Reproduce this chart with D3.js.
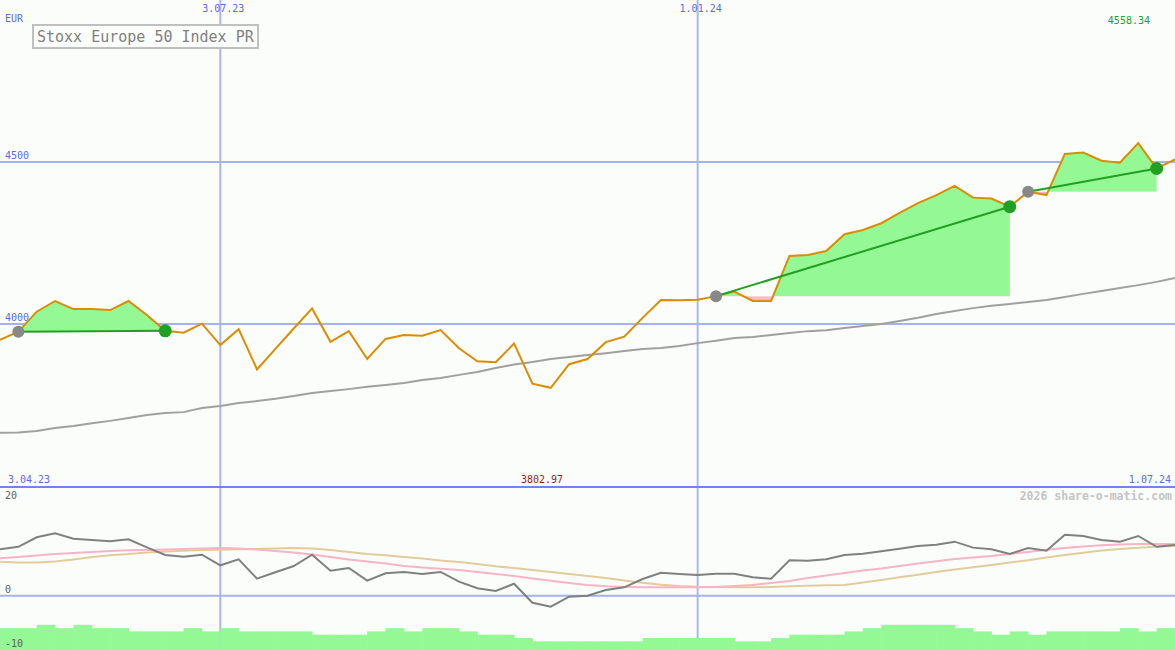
<!DOCTYPE html>
<html><head><meta charset="utf-8">
<script src="https://cdn.jsdelivr.net/npm/d3@7/dist/d3.min.js"></script>
<style>body{margin:0;background:#fbfdfb;}svg{display:block;}</style>
</head><body><svg id="c" width="1175" height="650"></svg>
<script>
const weeks = ["2023-04-10","2023-04-17","2023-04-24","2023-05-01","2023-05-08","2023-05-15","2023-05-22","2023-05-29","2023-06-05","2023-06-12","2023-06-19","2023-06-26","2023-07-03","2023-07-10","2023-07-17","2023-07-24","2023-07-31","2023-08-07","2023-08-14","2023-08-21","2023-08-28","2023-09-04","2023-09-11","2023-09-18","2023-09-25","2023-10-02","2023-10-09","2023-10-16","2023-10-23","2023-10-30","2023-11-06","2023-11-13","2023-11-20","2023-11-27","2023-12-04","2023-12-11","2023-12-18","2023-12-25","2024-01-01","2024-01-08","2024-01-15","2024-01-22","2024-01-29","2024-02-05","2024-02-12","2024-02-19","2024-02-26","2024-03-04","2024-03-11","2024-03-18","2024-03-25","2024-04-01","2024-04-08","2024-04-15","2024-04-22","2024-04-29","2024-05-06","2024-05-13","2024-05-20","2024-05-27","2024-06-03","2024-06-10","2024-06-17","2024-06-24","2024-07-01"];
const price = [3951,3976,4038,4071,4046,4046,4043,4071,4028,3979,3973,4001,3935,3984,3860,3923,3986,4048,3945,3978,3892,3954,3966,3964,3981,3925,3885,3882,3940,3816,3802.97,3876,3892,3944,3961,4019,4074,4073,4075,4086,4100,4071,4071,4210,4213,4225,4277,4290,4311,4343,4373,4398,4426,4390,4387,4362,4408,4398,4525,4529,4504,4498,4558.34,4480,4508];
const maLong = [3664,3665,3670,3679,3685,3694,3701,3710,3719,3725,3728,3741,3747,3756,3762,3769,3778,3787,3793,3799,3806,3812,3818,3827,3833,3843,3852,3864,3875,3883,3892,3898,3904,3910,3917,3923,3926,3932,3941,3948,3957,3960,3966,3972,3978,3981,3988,3994,4000,4009,4019,4031,4040,4049,4056,4062,4068,4074,4083,4093,4102,4111,4120,4130,4142];
const momentum = [8.53,9.0,10.74,11.47,10.49,10.25,10.0,10.37,8.9,7.49,7.18,7.54,5.59,6.69,3.12,4.3,5.46,7.54,4.6,5.09,2.76,4.12,4.36,3.99,4.36,2.58,1.36,0.86,2.2,-1.3,-2.03,-0.19,0.0,1.04,1.54,3.07,4.23,3.99,3.8,4.04,4.04,3.38,3.12,6.5,6.43,6.69,7.49,7.72,8.17,8.65,9.14,9.38,9.94,8.84,8.53,7.67,8.77,8.28,11.22,10.98,10.25,9.94,10.98,9.0,9.33];
const momFast = [6.88,7.12,7.39,7.67,7.85,8.04,8.22,8.35,8.41,8.5,8.59,8.68,8.77,8.68,8.5,8.22,7.95,7.58,7.12,6.66,6.29,5.92,5.46,5.19,4.96,4.72,4.36,3.99,3.62,3.16,2.76,2.33,1.96,1.72,1.6,1.54,1.54,1.54,1.54,1.6,1.78,1.96,2.33,2.7,3.25,3.71,4.17,4.63,5.0,5.46,5.92,6.33,6.75,7.03,7.3,7.67,8.04,8.46,8.77,9.05,9.27,9.42,9.51,9.51,9.51];
const momSlow = [6.25,6.11,6.11,6.29,6.66,7.12,7.43,7.67,7.95,8.13,8.28,8.41,8.46,8.53,8.59,8.68,8.77,8.68,8.41,8.04,7.67,7.43,7.12,6.84,6.47,6.2,5.83,5.41,5.09,4.72,4.36,3.99,3.62,3.25,2.79,2.39,2.02,1.78,1.65,1.6,1.54,1.54,1.6,1.72,1.83,1.91,1.96,2.42,2.88,3.38,3.86,4.36,4.82,5.22,5.65,6.11,6.51,7.03,7.49,7.91,8.31,8.59,8.83,9.01,9.2];
const barValues = [7,7,8,7,8,7,7,6,6,6,7,6,7,6,6,6,6,5,5,5,6,7,6,7,7,6,5,5,4,3,3,3,3,3,3,4,4,4,4,4,3,3,4,5,5,5,6,7,8,8,8,8,7,6,5,6,5,6,6,6,6,7,6,7];
const trades = [[1,9],[39,55],[56,63]]; // [entry week index, exit week index]
const priceTicks = [4000, 4500];
const dateLines = ["2023-07-03","2024-01-01"];
const dateLineLabels = ["3.07.23","1.01.24"];
const title = "Stoxx Europe 50 Index PR";
const currency = "EUR";
const lowTicks = [20, 0, -10];
const startLabel = "3.04.23", endLabel = "1.07.24";
const maxLabel = "4558.34", minLabel = "3802.97";
const credit = "2026 share-o-matic.com";

const W = 1175, H = 650;
const parse = d3.timeParse("%Y-%m-%d");
const dates = weeks.map(parse);
const svg = d3.select("#c");
const mono = "'DejaVu Sans Mono', monospace";

const x = d3.scaleTime().domain([dates[0], dates[dates.length-1]]).range([0, W]);
const y = d3.scaleLinear().domain([3500, 5000]).range([486, 0]);
const yLow = d3.scaleLinear().domain([-10, 20]).range([650, 487]);
const yBar = d3.scaleLinear().domain([0, 10]).range([651.2, 618.2]);

svg.append("rect").attr("width", W).attr("height", H).attr("fill", "#fbfdfb");

// vertical date lines
svg.selectAll(".vl").data(dateLines).join("line")
  .attr("x1", d => x(parse(d))).attr("x2", d => x(parse(d)))
  .attr("y1", 0).attr("y2", H).attr("stroke", "#a8b6f2").attr("stroke-width", 2);

// price gridlines
svg.selectAll(".hg").data(priceTicks).join("line")
  .attr("x1", 0).attr("x2", W).attr("y1", d => y(d)).attr("y2", d => y(d))
  .attr("stroke", "#a4b2f0").attr("stroke-width", 2);
svg.selectAll(".hgt").data(priceTicks).join("text")
  .attr("x", 5).attr("y", d => y(d) - 3).text(d => d)
  .attr("font-family", mono).attr("font-size", 10).attr("fill", "#5a6af0");

// lower panel zero line
svg.append("line").attr("x1", 0).attr("x2", W).attr("y1", yLow(0)).attr("y2", yLow(0))
  .attr("stroke", "#a4b2f0").attr("stroke-width", 2);

// bars
svg.selectAll(".bar").data(barValues).join("rect")
  .attr("x", (d, i) => x(dates[i])).attr("width", (d, i) => x(dates[i+1]) - x(dates[i]) + 0.5)
  .attr("y", d => yBar(d)).attr("height", d => H - yBar(d)).attr("fill", "#94f894");

// separator line
svg.append("line").attr("x1", 0).attr("x2", W).attr("y1", 487).attr("y2", 487)
  .attr("stroke", "#7282ee").attr("stroke-width", 2);

// long moving average
svg.append("path").datum(maLong)
  .attr("d", d3.line().x((d, i) => x(dates[i])).y(d => y(d)))
  .attr("fill", "none").attr("stroke", "#a0a0a0").attr("stroke-width", 2);

// trade fills
const defs = svg.append("defs");
trades.forEach((t, k) => {
  const [a, b] = t;
  const base = y(price[a]);
  const idx = d3.range(a, b + 1);
  const area = d3.area().x(i => x(dates[i])).y0(base).y1(i => y(price[i]));
  defs.append("clipPath").attr("id", "up" + k).append("rect")
    .attr("x", 0).attr("y", 0).attr("width", W).attr("height", base);
  defs.append("clipPath").attr("id", "dn" + k).append("rect")
    .attr("x", 0).attr("y", base).attr("width", W).attr("height", H - base);
  svg.append("path").datum(idx).attr("d", area).attr("fill", "#94f894").attr("clip-path", `url(#up${k})`);
  svg.append("path").datum(idx).attr("d", area).attr("fill", "#ffb6c6").attr("clip-path", `url(#dn${k})`);
});

// price line
svg.append("path").datum(price)
  .attr("d", d3.line().x((d, i) => x(dates[i])).y(d => y(d)))
  .attr("fill", "none").attr("stroke", "#dc8c00").attr("stroke-width", 2).attr("stroke-linejoin", "miter");

// trade lines and dots
trades.forEach(([a, b]) => {
  svg.append("line").attr("x1", x(dates[a])).attr("y1", y(price[a]))
    .attr("x2", x(dates[b])).attr("y2", y(price[b]))
    .attr("stroke", "#22a022").attr("stroke-width", 2);
});
trades.forEach(([a, b]) => {
  svg.append("circle").attr("cx", x(dates[a])).attr("cy", y(price[a])).attr("r", 6).attr("fill", "#888888");
  svg.append("circle").attr("cx", x(dates[b])).attr("cy", y(price[b])).attr("r", 6.5).attr("fill", "#22a022");
});

// lower panel lines
const lowLine = d3.line().x((d, i) => x(dates[i])).y(d => yLow(d));
svg.append("path").datum(momSlow).attr("d", lowLine).attr("fill", "none").attr("stroke", "#e2cc9c").attr("stroke-width", 2);
svg.append("path").datum(momFast).attr("d", lowLine).attr("fill", "none").attr("stroke", "#f8b4c6").attr("stroke-width", 2);
svg.append("path").datum(momentum).attr("d", lowLine).attr("fill", "none").attr("stroke", "#808080").attr("stroke-width", 2);

// lower tick labels
const lowPos = {20: yLow(20) + 12, 0: yLow(0) - 3, "-10": yLow(-10) - 3};
svg.selectAll(".lt").data(lowTicks).join("text")
  .attr("x", 5).attr("y", d => lowPos[d]).text(d => d)
  .attr("font-family", mono).attr("font-size", 10).attr("fill", "#606060");

// date labels at top
svg.selectAll(".dl").data(dateLines).join("text")
  .attr("x", d => x(parse(d)) + 3).attr("y", 12).attr("text-anchor", "middle")
  .text((d, i) => dateLineLabels[i])
  .attr("font-family", mono).attr("font-size", 10).attr("fill", "#5a6af0");

// other labels
const txt = (s, xx, yy, col, anchor, size, weight) => svg.append("text").attr("x", xx).attr("y", yy)
  .attr("text-anchor", anchor || "start").attr("font-family", mono).attr("font-size", size || 10)
  .attr("font-weight", weight || "normal").attr("fill", col).text(s);
txt(currency, 5, 22, "#5a6af0");
txt(maxLabel, 1150, 24, "#22a022", "end");
txt(startLabel, 8, 483, "#5a6af0");
txt(minLabel, 542, 483, "#a01818", "middle");
txt(endLabel, 1171, 483, "#5a6af0", "end");
txt(credit, 1172, 500, "#c4c4c4", "end", 11.5, "bold");

// title box
svg.append("rect").attr("x", 33).attr("y", 25).attr("width", 225).attr("height", 23)
  .attr("fill", "#fcfefc").attr("stroke", "#c0c0c0").attr("stroke-width", 2);
txt(title, 37, 42, "#808080", "start", 15);
</script></body></html>
